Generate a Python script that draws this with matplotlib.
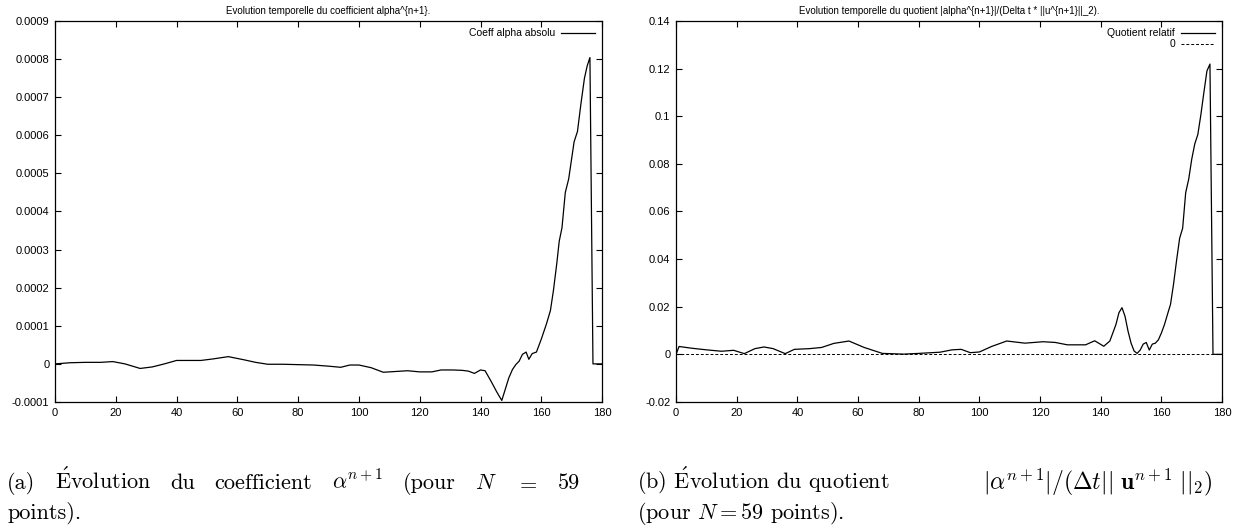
import numpy as np
import matplotlib
matplotlib.use('Agg')
from matplotlib import pyplot as plt
from matplotlib.ticker import FuncFormatter

plt.rcParams['font.family'] = ['Liberation Sans', 'DejaVu Sans']
plt.rcParams['mathtext.fontset'] = 'cm'

# coefficient alpha^{n+1} (values in 1e-4)
t_alpha = [0, 5, 10, 15, 19, 23, 28, 32, 36, 40, 44, 48, 52, 57, 62, 66, 70, 75, 80,
           85, 90, 94, 97, 100, 104, 108, 112, 116, 120, 124, 127, 131, 134, 136, 138,
           140, 141.5, 143.5, 145.3, 147, 149.3, 150.5, 151.6, 152.7, 153.8, 155, 155.9,
           157, 158.4, 160, 161.7, 163, 164, 165.1, 165.9, 166.8, 167.9, 169, 170.8,
           171.9, 173, 174.2, 175.1, 176, 177, 180]
alpha_e4 = [0, 0.03, 0.04, 0.04, 0.06, 0.0, -0.12, -0.08, 0.0, 0.09, 0.09, 0.09, 0.13,
            0.19, 0.11, 0.04, -0.01, -0.01, -0.02, -0.03, -0.06, -0.09, -0.03, -0.03,
            -0.1, -0.22, -0.2, -0.18, -0.21, -0.21, -0.16, -0.16, -0.17, -0.19, -0.25,
            -0.16, -0.18, -0.46, -0.73, -0.96, -0.37, -0.15, -0.02, 0.07, 0.25, 0.31,
            0.12, 0.27, 0.31, 0.65, 1.05, 1.4, 1.93, 2.64, 3.22, 3.57, 4.5, 4.85, 5.83,
            6.1, 6.8, 7.5, 7.82, 8.04, 0, 0]
alpha = [v * 1e-4 for v in alpha_e4]

# relative quotient
t_quot = [0, 1, 5, 10, 15, 19, 22.5, 26, 29, 32, 36, 39, 44, 48, 52, 57, 62, 68, 75,
          80, 87, 91, 94, 97, 100, 104, 109, 115, 121, 125, 129, 135, 138, 141, 143,
          145, 146, 147, 148, 149, 150, 151, 152, 153, 154, 155, 156, 157, 158, 159,
          160, 161, 162, 163, 164, 165, 166, 167, 168, 169, 170, 171, 172, 173, 174,
          175, 176, 177, 180]
quot = [0, 0.0033, 0.0026, 0.0019, 0.0013, 0.0017, 0.0003, 0.0024, 0.0031, 0.0024,
        0.0003, 0.0021, 0.0024, 0.0029, 0.0046, 0.0056, 0.0029, 0.0004, 0.0001, 0.0004,
        0.0009, 0.0019, 0.0021, 0.0007, 0.001, 0.0033, 0.0056, 0.0047, 0.0053, 0.005,
        0.004, 0.004, 0.0057, 0.0034, 0.0056, 0.0125, 0.0175, 0.0196, 0.016, 0.0097,
        0.0047, 0.0014, 0.0004, 0.0018, 0.0043, 0.005, 0.0018, 0.0043, 0.0047, 0.0061,
        0.009, 0.0125, 0.0168, 0.021, 0.0295, 0.0395, 0.0487, 0.053, 0.0679, 0.0736,
        0.082, 0.0884, 0.0923, 0.1006, 0.11, 0.119, 0.1219, 0, 0]

x_ticks = list(range(0, 181, 20))
alpha_ticks = [-0.0001, 0, 0.0001, 0.0002, 0.0003, 0.0004, 0.0005, 0.0006, 0.0007, 0.0008, 0.0009]
quot_ticks = [-0.02, 0, 0.02, 0.04, 0.06, 0.08, 0.1, 0.12, 0.14]

W, H = 1245, 532
fig = plt.figure(figsize=(W / 100, H / 100), dpi=100)
ax1 = fig.add_axes([0.0442, 0.2444, 0.4394, 0.7162])
ax2 = fig.add_axes([0.543, 0.2444, 0.4386, 0.7162])

gfmt = FuncFormatter(lambda v, p: '%g' % round(v, 10))

def style(ax, yt, title):
    ax.set_xlim(0, 180)
    ax.set_xticks(x_ticks)
    ax.set_yticks(yt)
    ax.set_ylim(yt[0], yt[-1])
    ax.yaxis.set_major_formatter(gfmt)
    ax.tick_params(direction='in', top=True, right=True, length=4, width=0.8,
                   labelsize=8, pad=4)
    for s in ax.spines.values():
        s.set_linewidth(0.9)
    ax.set_title(title, fontsize=7, pad=5)

ax1.plot(t_alpha, alpha, color='black', lw=0.9, label='Coeff alpha absolu')
style(ax1, alpha_ticks, 'Evolution temporelle du coefficient alpha^{n+1}.')
ax1.legend(loc='upper right', frameon=False, markerfirst=False, fontsize=7.5,
           handlelength=3.2, borderaxespad=0.3, handletextpad=0.6)

ax2.plot(t_quot, quot, color='black', lw=0.9, label='Quotient relatif')
ax2.axhline(0, color='black', lw=0.7, ls=(0, (3, 2)), label='0')
style(ax2, quot_ticks, 'Evolution temporelle du quotient |alpha^{n+1}|/(Delta t * ||u^{n+1}||_2).')
ax2.legend(loc='upper right', frameon=False, markerfirst=False, fontsize=7.5,
           handlelength=3.2, borderaxespad=0.3, handletextpad=0.6, labelspacing=0.1)

# captions (LaTeX-like, first line of (a) justified)
cap = dict(fontsize=16, family='cmr10', va='baseline')
base1 = 1 - 489 / H
base2 = 1 - 519 / H

def justify(words, x0, x1, y):
    texts = [fig.text(0, y, w, **cap) for w in words]
    r = fig.canvas.get_renderer()
    widths = [t.get_window_extent(r).width for t in texts]
    gap = (x1 - x0 - sum(widths)) / (len(words) - 1)
    x = x0
    for t, w in zip(texts, widths):
        t.set_x(x / W)
        x += w + gap

justify(['(a)', r'$\acute{\mathrm{E}}$volution', 'du', 'coefficient', r'$\alpha^{n+1}$',
         '(pour', r'$N$', r'$=$', '59'], 7, 580, base1)
fig.text(7 / W, base2, 'points).', **cap)
fig.text(637 / W, base1, r'(b) $\acute{\mathrm{E}}$volution du quotient', **cap)
fig.text(1213 / W, base1,
         r'$|\alpha^{n+1}|/(\Delta t||\ \mathbf{u}^{n+1}\ ||_2)$',
         ha='right', fontsize=17, family='cmr10', va='baseline')
fig.text(637 / W, base2, r'(pour $N = 59$ points).', **cap)

fig.savefig('out.png', dpi=100)
